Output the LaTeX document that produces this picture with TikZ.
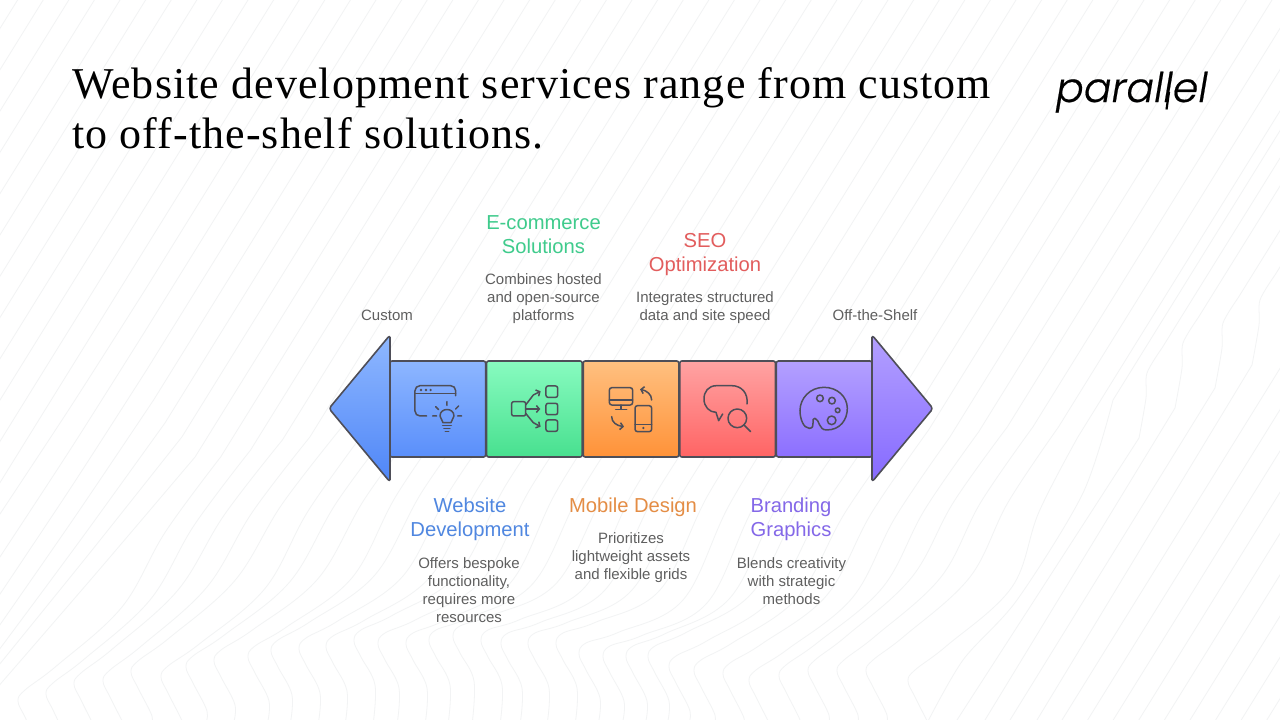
\documentclass[tikz,border=0pt]{standalone}
\usepackage{fontspec}
\usepackage{tikz}
\usetikzlibrary{arrows.meta}
\usetikzlibrary{positioning}
\setmainfont{Liberation Sans}
\newfontfamily\titlefont{Liberation Serif}[LetterSpace=2.5]
\newfontfamily\logofont{Poppins Light}[FakeSlant=0.17,FakeBold=0.5]
\definecolor{bgcol}{HTML}{F2F3F4}
\definecolor{edgecol}{HTML}{4E4E58}
\definecolor{deskcol}{HTML}{5F5F5F}
\definecolor{bluehd}{HTML}{5087E0}
\definecolor{greenhd}{HTML}{3FCB8C}
\definecolor{orangehd}{HTML}{E48D45}
\definecolor{redhd}{HTML}{E25D5D}
\definecolor{purplehd}{HTML}{8468E8}
\tikzset{
  bgline/.style={draw=bgcol, line width=0.8pt},
  tile/.style={draw=edgecol, line width=1.6pt, rounded corners=3pt, line join=round},
  box/.style={tile, rounded corners=2pt, outer sep=0pt, minimum width=95.6pt, minimum height=96pt},
  icon/.style={draw=edgecol, line width=1.5pt, line cap=round, line join=round},
  hd/.style={inner sep=0pt, align=center, anchor=north, font=\fontsize{20.2}{24}\selectfont,
    execute at begin node=\strut, execute at end node=\strut},
  desk/.style={inner sep=0pt, align=center, text=deskcol, font=\fontsize{15}{18}\selectfont,
    execute at begin node=\strut, execute at end node=\strut},
  endlabel/.style={inner sep=0pt, anchor=base, text=deskcol, font=\fontsize{15}{18}\selectfont},
  zoomA/.style={shift={(320,330)}, x=0.3333pt, y=-0.3333pt},
  zoomB/.style={shift={(620,330)}, x=0.3333pt, y=-0.3333pt},
  zoomC/.style={shift={(600,375)}, x=0.3333pt, y=-0.3333pt},
}
\begin{document}
\begin{tikzpicture}[x=1pt,y=-1pt]
  \useasboundingbox (0,0) rectangle (1280,720);
  \fill[white] (0,0) rectangle (1280,720);

  % Background lines
  \begin{scope}
    \clip (0,0) rectangle (1280,720);
    \foreach \k in {8,...,19}{
      \pgfmathsetmacro\s{504-25.6*\k}
      \draw[bgline] (\s+12.4,-20) -- (\s-0.62*600,600);
    }
    \foreach \k/\ye in {1/687,2/667,3/653,4/630,5/600,6/563,7/520}{
      \pgfmathsetmacro\s{504-25.6*\k}
      \pgfmathsetmacro\ya{\ye-230}
      \pgfmathsetmacro\xa{\s-0.62*\ya}
      \pgfmathsetmacro\ym{\ya+0.5*(\ye-\ya)+2}
      \pgfmathsetmacro\xm{0.5*\xa-2}
      \pgfmathsetmacro\ybot{\ye+9}
      \draw[bgline] (\s+12.4,-20) -- (\xa,\ya) plot[smooth] coordinates {(\xa,\ya) (\xm,\ym) (-10,\ybot)};
    }
    \foreach \j/\bx/\by in {0/17/697,1/45/690,2/73/680,3/102/677,4/130/668,5/160/673,6/185/663,7/213/657,
        8/247/653,9/270/647,10/298/645,11/325/643,12/353/637,13/377/640,14/405/640,15/428/637,16/452/633,
        17/480/637,18/500/640,19/527/640,20/555/640,21/578/650,22/602/653,23/625/653,24/647/653,25/668/663,
        26/693/667,27/722/670,28/748/677,29/778/672,30/807/667,31/836/667,32/865/667,33/907/677}{
      \pgfmathsetmacro\s{504+25.6*\j}
      \pgfmathsetmacro\lift{min(90,max(50,max(100-3.1*\j,50+5*(\j-22))))}
      \pgfmathsetmacro\ya{\by-240}
      \pgfmathsetmacro\xa{\s-0.62*\ya}
      \pgfmathsetmacro\xm{\bx+105}
      \pgfmathsetmacro\ym{\by-\lift}
      \pgfmathsetmacro\xn{0.5*(\xa+\xm)-6}
      \pgfmathsetmacro\yn{0.5*(\ya+\ym)}
      \pgfmathsetmacro\xp{\bx+40}
      \pgfmathsetmacro\yp{\by-0.35*\lift}
      \pgfmathsetmacro\xq{\bx+8}
      \pgfmathsetmacro\yq{\by-7}
      \pgfmathsetmacro\xr{\bx+1}
      \pgfmathsetmacro\yr{\by+4}
      \pgfmathsetmacro\xt{\bx+8}
      \pgfmathsetmacro\yt{\by+20}
      \pgfmathsetmacro\xu{\bx+22}
      \pgfmathsetmacro\yu{\by+48}
      \pgfmathsetmacro\xv{\bx+20}
      \draw[bgline] (\s+12.4,-20) -- (\xa,\ya) plot[smooth,tension=0.6] coordinates
        {(\xa,\ya) (\xn,\yn) (\xm,\ym) (\xp,\yp) (\xq,\yq) (\xr,\yr) (\xt,\yt) (\xu,\yu) (\xv,725)};
    }
    \draw[bgline] (1361+12.4,-20) -- (1113,400) plot[smooth] coordinates
      {(1113,400) (1083,493) (1017,600) (963,660) (926,725)};
    \foreach \bx/\by/\ex in {1147/373/957,1183/343/985,1223/323/1010,1260/300/1037}{
      \pgfmathsetmacro\xa{\bx+15}
      \pgfmathsetmacro\ya{\by-25}
      \pgfmathsetmacro\xt{\bx+0.62*(\by+20)}
      \pgfmathsetmacro\xb{\bx-1}
      \pgfmathsetmacro\yb{\by+25}
      \pgfmathsetmacro\xc{\bx-8}
      \pgfmathsetmacro\yc{\by+65}
      \draw[bgline] (\xt,-20) -- (\xa,\ya) plot[smooth] coordinates
        {(\xa,\ya) (\bx,\by) (\xb,\yb) (\xc,\yc)} -- (\ex,720);
    }
    \foreach \k in {0,...,8}{
      \pgfmathsetmacro\xb{1062+25.6*\k}
      \draw[bgline] (\xb,720) -- (\xb+248,320);
    }
  \end{scope}

  % Title and logo
  \node[inner sep=0pt, anchor=base west, font=\titlefont\fontsize{44}{50}\selectfont] (title1) at (72,98) {Website development services range from custom};
  \node[inner sep=0pt, anchor=base west, font=\titlefont\fontsize{44}{50}\selectfont] (title2) at (72,148) {to off-the-shelf solutions.};
  \node[inner sep=0pt, anchor=base, font=\logofont\fontsize{41}{41}\selectfont] (logo) at (1130,102) {parallel};
  \draw[black, line width=2.2pt] (1169,92) -- (1166.5,109.5);

  % Arrow
  \draw[tile, top color={rgb,255:red,143;green,184;blue,255}, bottom color={rgb,255:red,79;green,134;blue,247}]
    (390,335) -- (329,408.5) -- (390,482) -- cycle;
  \draw[tile, top color={rgb,255:red,179;green,160;blue,255}, bottom color={rgb,255:red,134;green,106;blue,255}]
    (872,335) -- (933,408.5) -- (872,482) -- cycle;
  \node[box, top color={rgb,255:red,141;green,182;blue,255}, bottom color={rgb,255:red,90;green,143;blue,251}] (webbox) at (437.8,409) {};
  \node[box, top color={rgb,255:red,136;green,251;blue,192}, bottom color={rgb,255:red,72;green,224;blue,143}, right=1pt of webbox] (shopbox) {};
  \node[box, top color={rgb,255:red,255;green,192;blue,128}, bottom color={rgb,255:red,255;green,146;blue,56}, right=1pt of shopbox] (mobilebox) {};
  \node[box, top color={rgb,255:red,255;green,163;blue,163}, bottom color={rgb,255:red,255;green,100;blue,100}, right=1pt of mobilebox] (seobox) {};
  \node[box, top color={rgb,255:red,179;green,160;blue,255}, bottom color={rgb,255:red,140;green,111;blue,255}, right=1pt of seobox] (brandbox) {};
  \draw[edgecol, line width=1.6pt] (390,337) -- (390,480);
  \draw[edgecol, line width=1.6pt] (872,337) -- (872,480);

  % Icons
  \begin{scope}[zoomA]
    \draw[icon, rounded corners=5pt] (320,258) -- (285,258) -- (285,167) -- (407,167) -- (407,197);
    \draw[icon] (285,190) -- (407,190);
    \foreach \x in {303,318,332} \fill[edgecol] (\x,180) circle (4);
    \draw[icon] (369,278) .. controls (369,266) and (360,270) .. (360,258) .. controls (360,232) and (402,232) .. (402,258) .. controls (402,270) and (393,266) .. (393,278) -- cycle;
    \draw[icon] (368,287) -- (394,287) (372,296) -- (390,296) (376,305) -- (386,305);
    \draw[icon] (381,215) -- (381,226) (347,230) -- (356,239) (416,228) -- (407,237) (338,258) -- (350,258) (413,258) -- (425,258);
    % shop
    \draw[icon, rounded corners=2pt] (575,215) rectangle (617,258);
    \draw[icon, -{Straight Barb[length=3pt,width=7pt]}] (617,225) -- (640,195) -- (662,184);
    \draw[icon, -{Straight Barb[length=3pt,width=7pt]}] (617,237) -- (661,237);
    \draw[icon, -{Straight Barb[length=3pt,width=7pt]}] (617,250) -- (640,278) -- (662,290);
    \foreach \y in {168,220,270} \draw[icon, rounded corners=2pt] (678,\y) rectangle (713,\y+34);
  \end{scope}
  \begin{scope}[zoomC]
    \draw[icon, rounded corners=2.5pt] (28,38) rectangle (98,90);
    \draw[icon] (28,75) -- (98,75) (63,90) -- (63,103) (47,103) -- (80,103);
    \draw[icon, rounded corners=2.5pt] (105,92) rectangle (155,170);
    \draw[icon] (105,148) -- (155,148);
    \fill[edgecol] (130,159) circle (4);
    \draw[icon, -{Straight Barb[length=3pt,width=7pt]}] (155,75) .. controls (155,58) and (140,47) .. (120,43);
    \draw[icon, -{Straight Barb[length=3pt,width=7pt]}] (35,125) .. controls (35,142) and (50,152) .. (72,155);
  \end{scope}
  \begin{scope}[zoomB]
    \draw[icon] (381,222) .. controls (385,190) and (365,167) .. (335,167) -- (290,167) .. controls (265,167) and (252,185) .. (252,207) .. controls (252,230) and (268,247) .. (288,247) -- (296,272) -- (308,252);
    \draw[icon] (352,265) circle (28);
    \draw[icon] (372,285) -- (392,305);
    % palette
    \draw[icon] (620,300) .. controls (660,300) and (682,270) .. (682,235) .. controls (682,200) and (652,172) .. (612,172) .. controls (570,172) and (540,205) .. (540,242) .. controls (540,265) and (550,295) .. (568,295) .. controls (590,295) and (570,262) .. (585,265) .. controls (600,270) and (595,300) .. (620,300) -- cycle;
    \draw[icon] (600,205) circle (10) (636,212) circle (10) (653,241) circle (7) (635,271) circle (13);
  \end{scope}

  % Labels
  \node[endlabel] (customlab) at (387,320) {Custom};
  \node[endlabel] (offlab) at (875,320) {Off-the-Shelf};

  \node[hd, text=bluehd] (webhd) at (470,497.7) {Website\\Development};
  \node[desk, below=13pt of webhd, xshift=-1pt] (webdesk) {Offers bespoke\\functionality,\\requires more\\resources};
  \node[hd, text=orangehd] (mobilehd) at (633,495.2) {Mobile Design};
  \node[desk, below=13pt of mobilehd, xshift=-2pt] (mobiledesk) {Prioritizes\\lightweight assets\\and flexible grids};
  \node[hd, text=purplehd] (brandhd) at (791,497.7) {Branding\\Graphics};
  \node[desk, below=13pt of brandhd, xshift=0.5pt] (branddesk) {Blends creativity\\with strategic\\methods};
  \node[hd, text=greenhd] (shophd) at (543.5,215) {E-commerce\\Solutions};
  \node[desk, below=13pt of shophd] (shopdesk) {Combines hosted\\and open-source\\platforms};
  \node[hd, text=redhd] (seohd) at (705,233) {SEO\\Optimization};
  \node[desk, below=13pt of seohd] (seodesk) {Integrates structured\\data and site speed};
\end{tikzpicture}
\end{document}
